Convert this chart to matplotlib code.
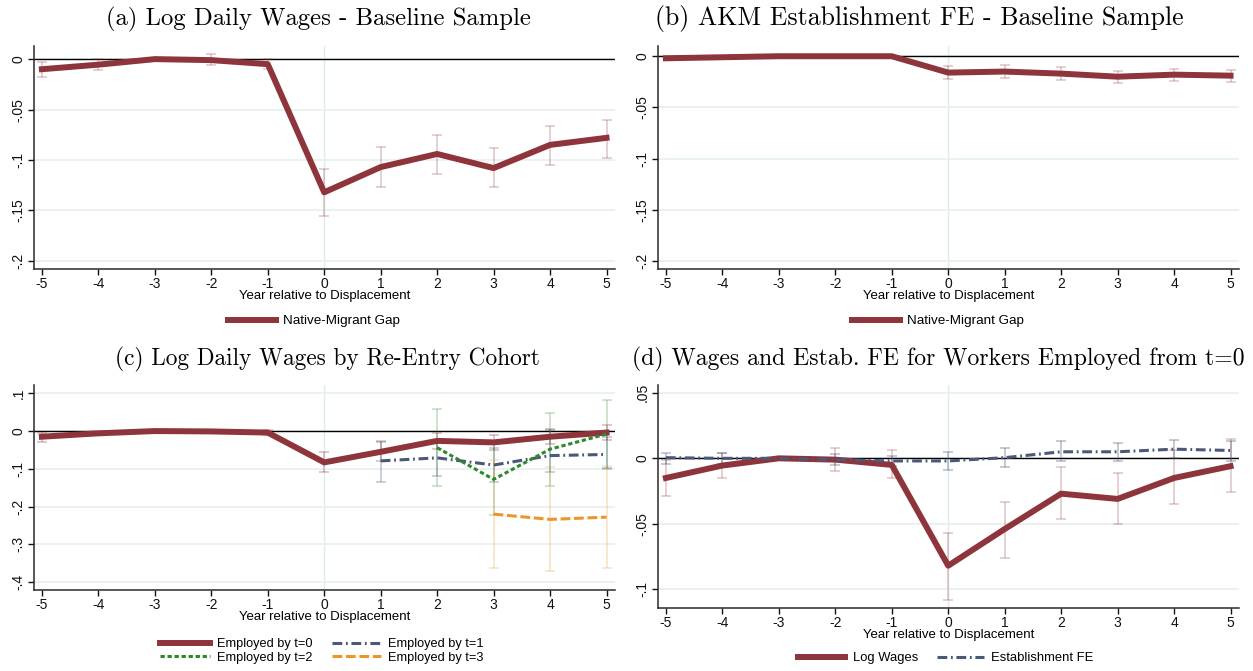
import numpy as np
import matplotlib.pyplot as plt
from matplotlib.lines import Line2D

plt.rcParams['font.family'] = ['Liberation Sans', 'DejaVu Sans']

# --- data ---
years = [-5, -4, -3, -2, -1, 0, 1, 2, 3, 4, 5]
x_labels = ['-5', '-4', '-3', '-2', '-1', '0', '1', '2', '3', '4', '5']
nan = np.nan

# (a) log daily wages, baseline sample
gap_a = [-0.010, -0.0055, 0.0, -0.001, -0.005, -0.132, -0.107, -0.094, -0.108, -0.085, -0.078]
gap_a_lo = [-0.018, -0.011, nan, -0.006, -0.010, -0.155, -0.127, -0.114, -0.127, -0.105, -0.098]
gap_a_hi = [-0.003, 0.000, nan, 0.005, 0.000, -0.109, -0.087, -0.075, -0.088, -0.066, -0.060]

# (b) AKM establishment FE, baseline sample
gap_b = [-0.002, -0.001, 0.0, 0.0, 0.0, -0.016, -0.015, -0.017, -0.020, -0.018, -0.019]
gap_b_lo = [nan, nan, nan, nan, nan, -0.022, -0.021, -0.023, -0.026, -0.024, -0.025]
gap_b_hi = [nan, nan, nan, nan, nan, -0.010, -0.009, -0.011, -0.014, -0.012, -0.013]

# (c) log daily wages by re-entry cohort
t0 = [-0.015, -0.006, 0.0, -0.001, -0.004, -0.083, -0.055, -0.026, -0.030, -0.015, -0.004]
t0_lo = [-0.028, -0.010, nan, -0.005, -0.010, -0.109, -0.080, -0.048, -0.050, -0.035, -0.024]
t0_hi = [-0.006, -0.002, nan, 0.003, 0.002, -0.055, -0.030, -0.004, -0.010, 0.005, 0.016]
yrs_t1 = [1, 2, 3, 4, 5]
t1 = [-0.079, -0.071, -0.090, -0.065, -0.062]
t1_lo = [-0.134, -0.120, -0.135, -0.108, -0.098]
t1_hi = [-0.026, -0.025, -0.044, 0.003, -0.016]
yrs_t2 = [2, 3, 4, 5]
t2 = [-0.044, -0.128, -0.048, -0.008]
t2_lo = [-0.145, -0.223, -0.145, -0.100]
t2_hi = [0.058, -0.033, 0.048, 0.083]
yrs_t3 = [3, 4, 5]
t3 = [-0.220, -0.234, -0.228]
t3_lo = [-0.363, -0.370, -0.363]
t3_hi = [-0.077, -0.095, -0.092]

# (d) workers employed from t=0
wage_d = [-0.015, -0.0055, 0.0, -0.001, -0.005, -0.082, -0.054, -0.027, -0.031, -0.015, -0.006]
wage_d_lo = [-0.029, -0.015, nan, -0.010, -0.015, -0.108, -0.076, -0.046, -0.050, -0.035, -0.026]
wage_d_hi = [-0.001, 0.004, nan, 0.008, 0.006, -0.057, -0.033, -0.007, -0.011, 0.006, 0.015]
fe_d = [0.0005, 0.0, 0.0, -0.001, -0.002, -0.002, 0.0005, 0.005, 0.005, 0.007, 0.006]
fe_d_lo = [-0.004, -0.004, nan, -0.005, -0.006, -0.009, -0.007, -0.002, -0.002, 0.000, -0.002]
fe_d_hi = [0.004, 0.004, nan, 0.003, 0.002, 0.005, 0.008, 0.013, 0.012, 0.014, 0.013]

ticks_ab = [0, -0.05, -0.1, -0.15, -0.2]
labels_ab = ['0', '-.05', '-.1', '-.15', '-.2']
ticks_c = [0.1, 0, -0.1, -0.2, -0.3, -0.4]
labels_c = ['.1', '0', '-.1', '-.2', '-.3', '-.4']
ticks_d = [0.05, 0, -0.05, -0.1]
labels_d = ['.05', '0', '-.05', '-.1']

MAROON = '#8e343b'
NAVY = '#4b5878'
GREEN = '#2c8a2c'
ORANGE = '#eb962d'

W, H = 1253, 671
fig = plt.figure(figsize=(W / 100, H / 100), dpi=100)


def px_axes(l, t, r, b):
    return fig.add_axes([l / W, 1 - b / H, (r - l) / W, (b - t) / H])


def style(ax, yticks, ylabels, ylim):
    ax.set_xlim(-5.14, 5.15)
    ax.set_ylim(*ylim)
    ax.set_xticks(years)
    ax.set_xticklabels(x_labels)
    ax.set_yticks(yticks)
    ax.set_yticklabels(ylabels, rotation=90, va='center')
    for s in ['top', 'right']:
        ax.spines[s].set_visible(False)
    for s in ['left', 'bottom']:
        ax.spines[s].set_color('#2a2a2a')
        ax.spines[s].set_linewidth(1.1)
    ax.grid(axis='y', color='#e6efef', lw=1.2)
    ax.axvline(0, color='#dcecee', lw=1.0, zorder=1)
    ax.axhline(0, color='black', lw=1.0, zorder=2)
    ax.tick_params(direction='out', length=4, width=1, labelsize=10, colors='#111111', pad=2)
    ax.set_xlabel('Year relative to Displacement', fontsize=9.5, labelpad=-1)


def ci(ax, x, lo, hi, color, alpha):
    x = np.asarray(x, float)
    lo = np.asarray(lo, float)
    hi = np.asarray(hi, float)
    ok = ~np.isnan(lo)
    mid = (lo + hi) / 2
    ax.errorbar(x[ok], mid[ok], yerr=(hi[ok] - lo[ok]) / 2, fmt='none',
                ecolor=color, alpha=alpha, elinewidth=1.3, capsize=3.5, capthick=1.3, zorder=2.5)


def title(cx, cy, txt, size):
    fig.text(cx / W, 1 - cy / H, txt, family='cmr10', fontsize=size, ha='center', va='center')


def legend(ax, handles, labels, cx, cy, size, ncol=1, **kw):
    ax.legend(handles, labels, ncol=ncol, loc='center', bbox_to_anchor=(cx / W, 1 - cy / H),
              bbox_transform=fig.transFigure, frameon=False, fontsize=size, **kw)


h0 = Line2D([], [], color=MAROON, lw=4.3)
h1 = Line2D([], [], color=NAVY, lw=2.2, dashes=(3.2, 1.2, 0.6, 1.2))
h2 = Line2D([], [], color=GREEN, lw=2.2, dashes=(1.4, 0.9))
h3 = Line2D([], [], color=ORANGE, lw=2.2, dashes=(3.2, 1.2))

# (a)
ax = px_axes(34, 46, 615, 269)
style(ax, ticks_ab, labels_ab, (-0.208, 0.013))
ci(ax, years, gap_a_lo, gap_a_hi, MAROON, 0.25)
ax.plot(years, gap_a, color=MAROON, lw=4.3, zorder=3)
title(318, 19, '(a) Log Daily Wages - Baseline Sample', 17.8)
legend(ax, [h0], ['Native-Migrant Gap'], 314, 321, 9.7, handlelength=3.6, handletextpad=0.5)

# (b)
ax = px_axes(658, 46, 1239, 269)
style(ax, ticks_ab, labels_ab, (-0.208, 0.010))
ci(ax, years, gap_b_lo, gap_b_hi, MAROON, 0.25)
ax.plot(years, gap_b, color=MAROON, lw=4.3, zorder=3)
title(919, 19, '(b) AKM Establishment FE - Baseline Sample', 18.6)
legend(ax, [h0], ['Native-Migrant Gap'], 938, 321, 9.7, handlelength=3.6, handletextpad=0.5)

# (c)
ax = px_axes(34, 385, 615, 590)
style(ax, ticks_c, labels_c, (-0.421, 0.122))
ci(ax, years, t0_lo, t0_hi, MAROON, 0.3)
ci(ax, yrs_t1, t1_lo, t1_hi, NAVY, 0.3)
ci(ax, yrs_t2, t2_lo, t2_hi, GREEN, 0.25)
ci(ax, yrs_t3, t3_lo, t3_hi, ORANGE, 0.25)
ax.plot(years, t0, color=MAROON, lw=4.3, zorder=3)
ax.plot(yrs_t1, t1, color=NAVY, lw=2.2, dashes=(3.2, 1.2, 0.6, 1.2), zorder=4)
ax.plot(yrs_t2, t2, color=GREEN, lw=2.2, dashes=(1.4, 0.9), zorder=4)
ax.plot(yrs_t3, t3, color=ORANGE, lw=2.2, dashes=(3.2, 1.2), zorder=4)
title(327, 359, '(c) Log Daily Wages by Re-Entry Cohort', 16.8)
legend(ax, [h0, h2, h1, h3], ['Employed by t=0', 'Employed by t=2', 'Employed by t=1', 'Employed by t=3'],
       322, 651, 9.2, ncol=2, handlelength=3.9, handletextpad=0.55, columnspacing=1.5, labelspacing=0.15)

# (d)
ax = px_axes(658, 385, 1239, 608)
style(ax, ticks_d, labels_d, (-0.1143, 0.056))
ci(ax, years, wage_d_lo, wage_d_hi, MAROON, 0.25)
ci(ax, years, fe_d_lo, fe_d_hi, NAVY, 0.35)
ax.plot(years, wage_d, color=MAROON, lw=4.3, zorder=3)
ax.plot(years, fe_d, color=NAVY, lw=2.2, dashes=(3.2, 1.2, 0.6, 1.2), zorder=4)
title(938, 359, '(d) Wages and Estab. FE for Workers Employed from t=0', 17.1)
legend(ax, [h0, h1], ['Log Wages', 'Establishment FE'], 946, 658, 9.4, ncol=2,
       handlelength=3.6, handletextpad=0.6, columnspacing=1.4)

fig.savefig('out.png', dpi=100)
